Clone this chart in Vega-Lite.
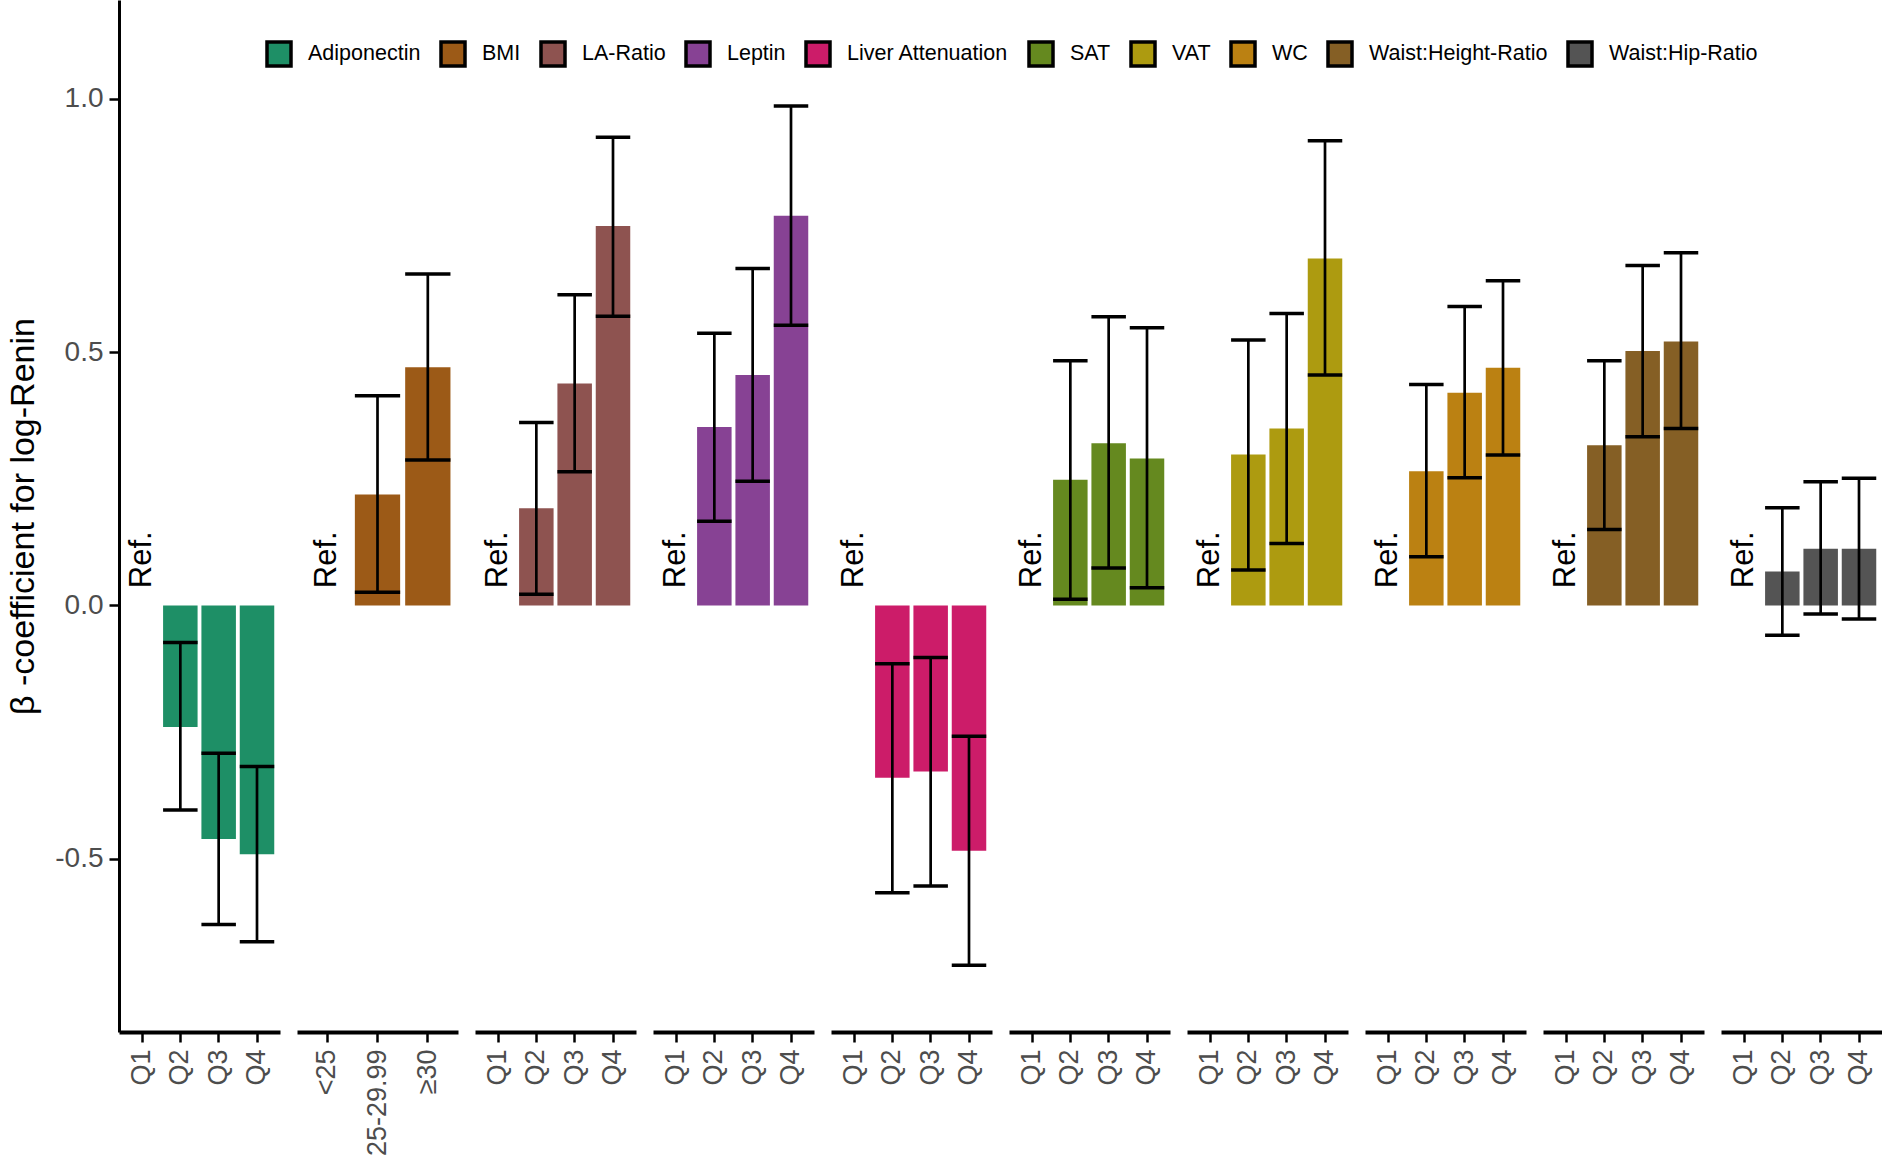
{
  "$schema": "https://vega.github.io/schema/vega-lite/v6.json",
  "padding": {"left": 6, "top": 0, "right": 0, "bottom": 0},
  "background": "white",
  "config": {
    "view": {"stroke": null},
    "font": "Liberation Sans"
  },
  "data": {
    "values": [
      {"group": "Adiponectin", "cat": "Q1", "beta": null, "lo": null, "hi": null, "note": "Ref."},
      {"group": "Adiponectin", "cat": "Q2", "beta": -0.240, "lo": -0.404, "hi": -0.073, "note": null},
      {"group": "Adiponectin", "cat": "Q3", "beta": -0.461, "lo": -0.630, "hi": -0.292, "note": null},
      {"group": "Adiponectin", "cat": "Q4", "beta": -0.491, "lo": -0.664, "hi": -0.318, "note": null},
      {"group": "BMI", "cat": "<25", "beta": null, "lo": null, "hi": null, "note": "Ref."},
      {"group": "BMI", "cat": "25-29.99", "beta": 0.219, "lo": 0.026, "hi": 0.414, "note": null},
      {"group": "BMI", "cat": "≥30", "beta": 0.470, "lo": 0.287, "hi": 0.654, "note": null},
      {"group": "LA-Ratio", "cat": "Q1", "beta": null, "lo": null, "hi": null, "note": "Ref."},
      {"group": "LA-Ratio", "cat": "Q2", "beta": 0.192, "lo": 0.022, "hi": 0.361, "note": null},
      {"group": "LA-Ratio", "cat": "Q3", "beta": 0.438, "lo": 0.264, "hi": 0.613, "note": null},
      {"group": "LA-Ratio", "cat": "Q4", "beta": 0.749, "lo": 0.571, "hi": 0.924, "note": null},
      {"group": "Leptin", "cat": "Q1", "beta": null, "lo": null, "hi": null, "note": "Ref."},
      {"group": "Leptin", "cat": "Q2", "beta": 0.352, "lo": 0.166, "hi": 0.537, "note": null},
      {"group": "Leptin", "cat": "Q3", "beta": 0.455, "lo": 0.245, "hi": 0.665, "note": null},
      {"group": "Leptin", "cat": "Q4", "beta": 0.769, "lo": 0.553, "hi": 0.986, "note": null},
      {"group": "Liver Attenuation", "cat": "Q1", "beta": null, "lo": null, "hi": null, "note": "Ref."},
      {"group": "Liver Attenuation", "cat": "Q2", "beta": -0.340, "lo": -0.567, "hi": -0.115, "note": null},
      {"group": "Liver Attenuation", "cat": "Q3", "beta": -0.328, "lo": -0.554, "hi": -0.103, "note": null},
      {"group": "Liver Attenuation", "cat": "Q4", "beta": -0.484, "lo": -0.710, "hi": -0.258, "note": null},
      {"group": "SAT", "cat": "Q1", "beta": null, "lo": null, "hi": null, "note": "Ref."},
      {"group": "SAT", "cat": "Q2", "beta": 0.248, "lo": 0.012, "hi": 0.483, "note": null},
      {"group": "SAT", "cat": "Q3", "beta": 0.320, "lo": 0.074, "hi": 0.570, "note": null},
      {"group": "SAT", "cat": "Q4", "beta": 0.290, "lo": 0.035, "hi": 0.548, "note": null},
      {"group": "VAT", "cat": "Q1", "beta": null, "lo": null, "hi": null, "note": "Ref."},
      {"group": "VAT", "cat": "Q2", "beta": 0.298, "lo": 0.070, "hi": 0.524, "note": null},
      {"group": "VAT", "cat": "Q3", "beta": 0.349, "lo": 0.122, "hi": 0.576, "note": null},
      {"group": "VAT", "cat": "Q4", "beta": 0.685, "lo": 0.455, "hi": 0.917, "note": null},
      {"group": "WC", "cat": "Q1", "beta": null, "lo": null, "hi": null, "note": "Ref."},
      {"group": "WC", "cat": "Q2", "beta": 0.265, "lo": 0.096, "hi": 0.436, "note": null},
      {"group": "WC", "cat": "Q3", "beta": 0.420, "lo": 0.252, "hi": 0.590, "note": null},
      {"group": "WC", "cat": "Q4", "beta": 0.469, "lo": 0.297, "hi": 0.641, "note": null},
      {"group": "Waist:Height-Ratio", "cat": "Q1", "beta": null, "lo": null, "hi": null, "note": "Ref."},
      {"group": "Waist:Height-Ratio", "cat": "Q2", "beta": 0.316, "lo": 0.150, "hi": 0.483, "note": null},
      {"group": "Waist:Height-Ratio", "cat": "Q3", "beta": 0.502, "lo": 0.333, "hi": 0.671, "note": null},
      {"group": "Waist:Height-Ratio", "cat": "Q4", "beta": 0.521, "lo": 0.349, "hi": 0.696, "note": null},
      {"group": "Waist:Hip-Ratio", "cat": "Q1", "beta": null, "lo": null, "hi": null, "note": "Ref."},
      {"group": "Waist:Hip-Ratio", "cat": "Q2", "beta": 0.067, "lo": -0.059, "hi": 0.193, "note": null},
      {"group": "Waist:Hip-Ratio", "cat": "Q3", "beta": 0.112, "lo": -0.017, "hi": 0.244, "note": null},
      {"group": "Waist:Hip-Ratio", "cat": "Q4", "beta": 0.112, "lo": -0.027, "hi": 0.251, "note": null}
    ]
  },
  "facet": {
    "column": {
      "field": "group",
      "type": "nominal",
      "sort": ["Adiponectin", "BMI", "LA-Ratio", "Leptin", "Liver Attenuation", "SAT", "VAT", "WC", "Waist:Height-Ratio", "Waist:Hip-Ratio"],
      "header": {"title": null, "labels": false}
    }
  },
  "spacing": 17,
  "resolve": {"scale": {"x": "independent"}},
  "spec": {
    "width": 161,
    "height": 1032,
    "encoding": {
      "x": {
        "field": "cat",
        "type": "nominal",
        "sort": ["Q1", "Q2", "Q3", "Q4", "<25", "25-29.99", "≥30"],
        "scale": {"paddingInner": 0.1, "paddingOuter": 0.15},
        "axis": {
          "title": null,
          "labelAngle": 270,
          "labelFontSize": 27,
          "labelColor": "#4d4d4d",
          "labelPadding": 7,
          "domainColor": "black",
          "domainWidth": 4,
          "tickColor": "black",
          "tickWidth": 2.5,
          "tickSize": 10,
          "grid": false
        }
      }
    },
    "layer": [
      {
        "transform": [{"filter": "datum.beta != null"}],
        "mark": {"type": "bar"},
        "encoding": {
          "y": {
            "field": "beta",
            "type": "quantitative",
            "scale": {"domain": [-0.842, 1.195], "nice": false, "zero": false},
            "axis": {
              "values": [-0.5, 0, 0.5, 1],
              "labelExpr": "datum.value < 0 ? '-' + format(-datum.value, '.1f') : format(datum.value, '.1f')",
              "title": "β -coefficient for log-Renin",
              "titleFontSize": 34,
              "titleFontWeight": "normal",
              "titleColor": "black",
              "titlePadding": 14,
              "labelFontSize": 28,
              "labelColor": "#4d4d4d",
              "labelPadding": 6,
              "tickSize": 10,
              "tickWidth": 2.5,
              "tickColor": "black",
              "domainColor": "black",
              "domainWidth": 3,
              "grid": false
            }
          },
          "color": {
            "field": "group",
            "type": "nominal",
            "scale": {
              "domain": ["Adiponectin", "BMI", "LA-Ratio", "Leptin", "Liver Attenuation", "SAT", "VAT", "WC", "Waist:Height-Ratio", "Waist:Hip-Ratio"],
              "range": ["#1e8f66", "#9c5a17", "#8e5350", "#874294", "#cc1c69", "#65891f", "#ad9b10", "#bb8112", "#855f25", "#545454"]
            },
            "legend": {
              "title": null,
              "orient": "none",
              "legendX": 146,
              "legendY": 40,
              "direction": "horizontal",
              "columns": 10,
              "symbolType": "square",
              "symbolSize": 576,
              "symbolStrokeColor": "black",
              "symbolStrokeWidth": 3.5,
              "symbolOpacity": 1,
              "labelFontSize": 21.5,
              "labelLimit": 0,
              "labelColor": "black",
              "labelOffset": 15,
              "columnPadding": 13
            }
          }
        }
      },
      {
        "mark": {"type": "rule", "strokeWidth": 3.5, "color": "black"},
        "encoding": {"y": {"datum": 0}}
      },
      {
        "transform": [{"filter": "datum.lo != null"}],
        "mark": {"type": "rule", "strokeWidth": 2.7, "color": "black"},
        "encoding": {
          "y": {"field": "lo", "type": "quantitative"},
          "y2": {"field": "hi"}
        }
      },
      {
        "transform": [{"filter": "datum.lo != null"}],
        "mark": {"type": "rule", "strokeWidth": 3.5, "color": "black"},
        "encoding": {
          "x": {"field": "cat", "type": "nominal", "bandPosition": 0, "sort": ["Q1", "Q2", "Q3", "Q4", "<25", "25-29.99", "≥30"]},
          "x2": {"field": "cat", "bandPosition": 1},
          "y": {"field": "lo", "type": "quantitative"}
        }
      },
      {
        "transform": [{"filter": "datum.hi != null"}],
        "mark": {"type": "rule", "strokeWidth": 3.5, "color": "black"},
        "encoding": {
          "x": {"field": "cat", "type": "nominal", "bandPosition": 0, "sort": ["Q1", "Q2", "Q3", "Q4", "<25", "25-29.99", "≥30"]},
          "x2": {"field": "cat", "bandPosition": 1},
          "y": {"field": "hi", "type": "quantitative"}
        }
      },
      {
        "transform": [{"filter": "datum.note != null"}],
        "mark": {"type": "text", "angle": 270, "align": "left", "baseline": "middle", "fontSize": 31, "color": "black"},
        "encoding": {
          "y": {"datum": 0.034},
          "text": {"field": "note"}
        }
      }
    ]
  }
}
